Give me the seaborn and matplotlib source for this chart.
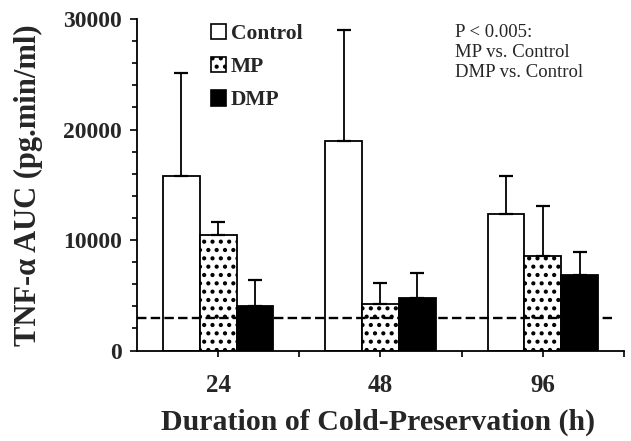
import seaborn as sns
import pandas as pd
import matplotlib.pyplot as plt
from matplotlib.patches import Patch
from matplotlib.ticker import MultipleLocator

# values (pg.min/ml)
hours = ["24", "48", "96"]
groups = ["Control", "MP", "DMP"]
control = [15770, 18940, 12350]
control_sd = [9360, 10020, 3440]
mp = [10430, 4230, 8580]
mp_sd = [1180, 1860, 4500]
dmp = [4010, 4730, 6830]
dmp_sd = [2420, 2330, 2110]
baseline = 2950

df = pd.DataFrame({
    "hours": hours * 3,
    "group": ["Control"] * 3 + ["MP"] * 3 + ["DMP"] * 3,
    "auc": control + mp + dmp,
    "sd": control_sd + mp_sd + dmp_sd,
})

sns.set_style("ticks")
plt.rcParams["font.family"] = ["Liberation Serif", "DejaVu Serif"]
plt.rcParams["hatch.linewidth"] = 1.8

fig = plt.figure(figsize=(6.31, 4.41), dpi=100)
ax = fig.add_axes([0.217, 0.205, 0.772, 0.752])

sns.barplot(data=df, x="hours", y="auc", hue="group", hue_order=groups,
            order=hours, palette=["white", "white", "black"], errorbar=None,
            width=0.68, edgecolor="black", linewidth=1.3, legend=False, ax=ax)

fills = {"Control": ("white", ""), "MP": ("white", ".."), "DMP": ("black", "")}
for container, g in zip(ax.containers, groups):
    sub = df[df.group == g].set_index("hours").loc[hours]
    for bar, (_, row) in zip(container, sub.iterrows()):
        bar.set_facecolor(fills[g][0])
        bar.set_hatch(fills[g][1])
        xc = bar.get_x() + bar.get_width() / 2
        ax.errorbar(xc, row.auc, yerr=[[0], [row.sd]], fmt="none", ecolor="black",
                    elinewidth=1.3, capsize=4.7, capthick=1.6, zorder=1)

ax.axhline(baseline, xmin=0, xmax=0.975, color="black", ls=(0, (4, 1.8)), lw=1.7, zorder=3)

ax.set_xlim(-0.5, 2.5)
ax.set_ylim(0, 30000)
ax.yaxis.set_major_locator(MultipleLocator(10000))
ax.yaxis.set_minor_locator(MultipleLocator(2000))
ax.set_xticks([0, 1, 2])
ax.set_xticks([0.5, 1.5, 2.5], minor=True)
ax.tick_params(which="both", direction="out", width=1.2, color="black")
ax.tick_params(axis="y", which="major", length=5)
ax.tick_params(axis="y", which="minor", length=3.6)
ax.tick_params(axis="x", which="both", length=4.5)
ax.tick_params(axis="y", labelsize=17, pad=6)
ax.tick_params(axis="x", labelsize=18, pad=12)
for lab in ax.get_xticklabels() + ax.get_yticklabels():
    lab.set_fontweight("bold")

sns.despine(ax=ax)
for s in ["left", "bottom"]:
    ax.spines[s].set_linewidth(1.3)
    ax.spines[s].set_color("black")

ax.set_ylabel("TNF-α AUC (pg.min/ml)", fontsize=22, fontweight="bold")
ax.yaxis.set_label_coords(-0.193, 0.5)
ax.set_xlabel("Duration of Cold-Preservation (h)", fontsize=21.5, fontweight="bold")
ax.xaxis.set_label_coords(0.496, -0.175)

handles = [Patch(facecolor=fills[g][0], hatch=fills[g][1], edgecolor="black", lw=1.2)
           for g in groups]
ax.legend(handles, groups, loc="upper left", bbox_to_anchor=(0.152, 0.985),
          frameon=False, borderpad=0, borderaxespad=0, handlelength=0.72,
          handleheight=0.72, handletextpad=0.2, labelspacing=0.6,
          prop={"weight": "bold", "size": 15.5})

ax.text(0.653, 0.985, "P < 0.005:\nMP vs. Control\nDMP vs. Control", transform=ax.transAxes,
        ha="left", va="top", fontsize=13.5, linespacing=1.25)

fig.savefig("out.png", dpi=100)
